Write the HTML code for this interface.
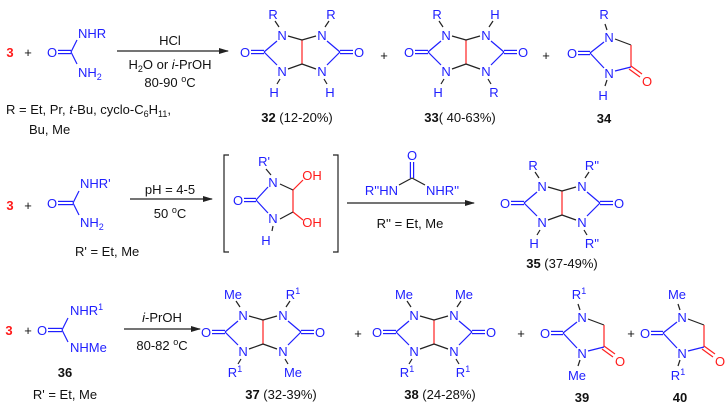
<!DOCTYPE html>
<html><head><meta charset="utf-8"><style>
html,body{margin:0;padding:0;background:#fff;}
svg{display:block;font-family:"Liberation Sans",Arial,sans-serif;font-size:13px;}
.b{fill:#1f1fff}.r{fill:#ff1a1a}.k{fill:#111}
</style></head><body>
<svg width="728" height="405" viewBox="0 0 728 405" xmlns="http://www.w3.org/2000/svg">
<defs>
<g id="gly" fill="none" stroke-width="1.2">
 <line x1="0" y1="-12" x2="0" y2="12" stroke="#ff2020"/>
 <g stroke="#222"><line x1="0" y1="-12" x2="-14" y2="-16"/><line x1="0" y1="12" x2="-14" y2="17"/><line x1="0" y1="-12" x2="14" y2="-16"/><line x1="0" y1="12" x2="14" y2="17"/></g>
 <g stroke="#1f1fff">
  <line x1="-25" y1="-11" x2="-38" y2="0"/><line x1="-38" y1="0" x2="-25" y2="13"/>
  <line x1="-38" y1="-1.6" x2="-51" y2="-1.6"/><line x1="-38" y1="1.6" x2="-51" y2="1.6"/>
  <line x1="25" y1="-11" x2="38" y2="0"/><line x1="38" y1="0" x2="25" y2="13"/>
  <line x1="38" y1="-1.6" x2="51" y2="-1.6"/><line x1="38" y1="1.6" x2="51" y2="1.6"/>
 </g>
 <g stroke="#222"><line x1="-23" y1="-25" x2="-27" y2="-31"/><line x1="23" y1="-25" x2="27" y2="-31"/><line x1="-22" y1="27" x2="-25" y2="32"/><line x1="22" y1="27" x2="25" y2="32"/></g>
</g>
<g id="hyd" fill="none" stroke-width="1.2">
 <line x1="6" y1="2" x2="22" y2="8" stroke="#222"/>
 <line x1="22" y1="8" x2="22" y2="30" stroke="#ff2020"/>
 <line x1="22" y1="29" x2="33" y2="37" stroke="#ff2020"/><line x1="20" y1="32" x2="31" y2="40" stroke="#ff2020"/>
 <g stroke="#1f1fff"><line x1="22" y1="30" x2="6" y2="34"/><line x1="-5" y1="31" x2="-19" y2="16"/><line x1="-19" y1="16" x2="-5" y2="5"/>
 <line x1="-19" y1="14.4" x2="-31" y2="14.4"/><line x1="-19" y1="17.6" x2="-31" y2="17.6"/></g>
 <g stroke="#222"><line x1="-2" y1="-7" x2="-4" y2="-13"/><line x1="-2" y1="43" x2="-4" y2="49"/></g>
</g>
<marker id="ar" markerWidth="10" markerHeight="8" refX="9" refY="4" orient="auto" markerUnits="userSpaceOnUse"><path d="M0,1 L10,4 L0,7 Z" fill="#222"/></marker>
</defs>

<!-- Row 1 -->
<text x="10" y="57" class="r" font-weight="bold" text-anchor="middle">3</text>
<text x="28" y="57" class="k" text-anchor="middle">+</text>
<g stroke-width="1.2" fill="none"><line x1="58" y1="50.4" x2="71" y2="50.4" stroke="#1f1fff"/><line x1="58" y1="53.6" x2="71" y2="53.6" stroke="#1f1fff"/><line x1="71" y1="52" x2="77" y2="40" stroke="#1f1fff"/><line x1="71" y1="52" x2="77" y2="64" stroke="#1f1fff"/></g>
<text x="52" y="57" class="b" text-anchor="middle">O</text>
<text x="78" y="38" class="b">NHR</text>
<text x="78" y="77" class="b">NH<tspan font-size="9" dy="3">2</tspan></text>
<line x1="117" y1="51" x2="228" y2="51" stroke="#222" stroke-width="1.2" marker-end="url(#ar)"/>
<text x="170" y="45" class="k" text-anchor="middle">HCl</text>
<text x="170" y="69" class="k" text-anchor="middle">H<tspan font-size="9" dy="3">2</tspan><tspan dy="-3">O or </tspan><tspan font-style="italic">i</tspan>-PrOH</text>
<text x="170" y="87" class="k" text-anchor="middle">80-90 <tspan font-size="9" dy="-5">o</tspan><tspan dy="5">C</tspan></text>
<text x="6" y="114" class="k">R = Et, Pr, <tspan font-style="italic">t</tspan>-Bu, cyclo-C<tspan font-size="9" dy="3">6</tspan><tspan dy="-3">H</tspan><tspan font-size="9" dy="3">11</tspan><tspan dy="-3">,</tspan></text>
<text x="29" y="134" class="k">Bu, Me</text>

<use href="#gly" x="302" y="52"/>
<g class="b" text-anchor="middle" transform="translate(302,52)">
<text x="-20" y="-12">N</text><text x="-20" y="24">N</text><text x="20" y="-12">N</text><text x="20" y="24">N</text>
<text x="-57" y="5">O</text><text x="57" y="5">O</text>
<text x="-29" y="-33">R</text><text x="29" y="-33">R</text><text x="-28" y="45">H</text><text x="28" y="45">H</text>
</g>
<text x="297" y="122" class="k" text-anchor="middle"><tspan font-weight="bold">32</tspan> (12-20%)</text>
<text x="384" y="60" class="k" text-anchor="middle">+</text>

<use href="#gly" x="466" y="52"/>
<g class="b" text-anchor="middle" transform="translate(466,52)">
<text x="-20" y="-12">N</text><text x="-20" y="24">N</text><text x="20" y="-12">N</text><text x="20" y="24">N</text>
<text x="-57" y="5">O</text><text x="57" y="5">O</text>
<text x="-29" y="-33">R</text><text x="29" y="-33">H</text><text x="-28" y="45">H</text><text x="28" y="45">R</text>
</g>
<text x="460" y="122" class="k" text-anchor="middle"><tspan font-weight="bold">33</tspan>( 40-63%)</text>
<text x="546" y="60" class="k" text-anchor="middle">+</text>

<use href="#hyd" x="609" y="37"/>
<g class="b" text-anchor="middle" transform="translate(609,37)">
<text x="0" y="5">N</text><text x="0" y="41">N</text><text x="-37" y="21">O</text><text x="-5" y="-18">R</text><text x="-6" y="63">H</text>
<text x="38" y="49" class="r">O</text>
</g>
<text x="604" y="123" class="k" text-anchor="middle" font-weight="bold">34</text>

<!-- Row 2 -->
<text x="10" y="210" class="r" font-weight="bold" text-anchor="middle">3</text>
<text x="28" y="210" class="k" text-anchor="middle">+</text>
<g stroke-width="1.2" fill="none" stroke="#1f1fff"><line x1="58" y1="201.4" x2="73" y2="201.4"/><line x1="58" y1="204.6" x2="73" y2="204.6"/><line x1="73" y1="203" x2="79" y2="191"/><line x1="73" y1="203" x2="79" y2="215"/></g>
<text x="52" y="208" class="b" text-anchor="middle">O</text>
<text x="80" y="188" class="b">NHR'</text>
<text x="80" y="227" class="b">NH<tspan font-size="9" dy="3">2</tspan></text>
<text x="75" y="256" class="k">R' = Et, Me</text>
<line x1="130" y1="199" x2="212" y2="199" stroke="#222" stroke-width="1.2" marker-end="url(#ar)"/>
<text x="170" y="194" class="k" text-anchor="middle">pH = 4-5</text>
<text x="170" y="218" class="k" text-anchor="middle">50 <tspan font-size="9" dy="-5">o</tspan><tspan dy="5">C</tspan></text>
<g fill="none" stroke="#222" stroke-width="1.2"><path d="M229,155 H224 V252 H229"/><path d="M333,155 H338 V252 H333"/></g>
<g fill="none" stroke-width="1.2">
<line x1="293" y1="190" x2="293" y2="212" stroke="#ff2020"/>
<line x1="280" y1="184" x2="293" y2="190" stroke="#222"/><line x1="280" y1="219" x2="293" y2="212" stroke="#222"/>
<line x1="293" y1="190" x2="303" y2="180" stroke="#ff2020"/><line x1="293" y1="212" x2="303" y2="220" stroke="#ff2020"/>
<g stroke="#1f1fff"><line x1="268" y1="187" x2="256" y2="200"/><line x1="256" y1="200" x2="268" y2="213"/><line x1="256" y1="198.4" x2="244" y2="198.4"/><line x1="256" y1="201.6" x2="244" y2="201.6"/></g>
<line x1="271" y1="175" x2="266" y2="169" stroke="#222"/><line x1="273" y1="226" x2="272" y2="231" stroke="#222"/>
</g>
<g class="b" text-anchor="middle"><text x="273" y="187">N</text><text x="273" y="223">N</text><text x="238" y="205">O</text><text x="264" y="166">R'</text><text x="266" y="245">H</text></g>
<text x="312" y="180" class="r" text-anchor="middle">OH</text>
<text x="312" y="227" class="r" text-anchor="middle">OH</text>

<line x1="347" y1="203" x2="474" y2="203" stroke="#222" stroke-width="1.2" marker-end="url(#ar)"/>
<g fill="none" stroke-width="1.2"><line x1="410.4" y1="162" x2="410.4" y2="178" stroke="#1f1fff"/><line x1="413.6" y1="162" x2="413.6" y2="178" stroke="#1f1fff"/><line x1="412" y1="178" x2="399" y2="185" stroke="#222"/><line x1="412" y1="178" x2="425" y2="185" stroke="#222"/></g>
<text x="412" y="160" class="b" text-anchor="middle">O</text>
<text x="398" y="195" class="b" text-anchor="end">R''HN</text>
<text x="426" y="195" class="b">NHR''</text>
<text x="410" y="228" class="k" text-anchor="middle">R'' = Et, Me</text>

<use href="#gly" x="562" y="203"/>
<g class="b" text-anchor="middle" transform="translate(562,203)">
<text x="-20" y="-12">N</text><text x="-20" y="24">N</text><text x="20" y="-12">N</text><text x="20" y="24">N</text>
<text x="-57" y="5">O</text><text x="57" y="5">O</text>
<text x="-29" y="-33">R</text><text x="30" y="-33">R''</text><text x="-28" y="45">H</text><text x="30" y="45">R''</text>
</g>
<text x="562" y="268" class="k" text-anchor="middle"><tspan font-weight="bold">35</tspan> (37-49%)</text>

<!-- Row 3 -->
<text x="9" y="335" class="r" font-weight="bold" text-anchor="middle">3</text>
<text x="28" y="335" class="k" text-anchor="middle">+</text>
<g stroke-width="1.2" fill="none" stroke="#1f1fff"><line x1="48" y1="328.4" x2="62" y2="328.4"/><line x1="48" y1="331.6" x2="62" y2="331.6"/><line x1="62" y1="330" x2="68" y2="318"/><line x1="62" y1="330" x2="68" y2="342"/></g>
<text x="42" y="335" class="b" text-anchor="middle">O</text>
<text x="70" y="315" class="b">NHR<tspan font-size="9" dy="-5">1</tspan></text>
<text x="70" y="352" class="b">NHMe</text>
<text x="65" y="377" class="k" text-anchor="middle" font-weight="bold">36</text>
<text x="65" y="399" class="k" text-anchor="middle">R' = Et, Me</text>
<line x1="124" y1="329" x2="200" y2="329" stroke="#222" stroke-width="1.2" marker-end="url(#ar)"/>
<text x="162" y="322" class="k" text-anchor="middle"><tspan font-style="italic">i</tspan>-PrOH</text>
<text x="162" y="350" class="k" text-anchor="middle">80-82 <tspan font-size="9" dy="-5">o</tspan><tspan dy="5">C</tspan></text>

<use href="#gly" x="263" y="332"/>
<g class="b" text-anchor="middle" transform="translate(263,332)">
<text x="-20" y="-12">N</text><text x="-20" y="24">N</text><text x="20" y="-12">N</text><text x="20" y="24">N</text>
<text x="-57" y="5">O</text><text x="57" y="5">O</text>
<text x="-30" y="-33">Me</text><text x="30" y="-33">R<tspan font-size="9" dy="-5">1</tspan></text><text x="-28" y="45">R<tspan font-size="9" dy="-5">1</tspan></text><text x="30" y="45">Me</text>
</g>
<text x="281" y="399" class="k" text-anchor="middle"><tspan font-weight="bold">37</tspan> (32-39%)</text>
<text x="358" y="338" class="k" text-anchor="middle">+</text>

<use href="#gly" x="434" y="332"/>
<g class="b" text-anchor="middle" transform="translate(434,332)">
<text x="-20" y="-12">N</text><text x="-20" y="24">N</text><text x="20" y="-12">N</text><text x="20" y="24">N</text>
<text x="-57" y="5">O</text><text x="57" y="5">O</text>
<text x="-30" y="-33">Me</text><text x="30" y="-33">Me</text><text x="-27" y="45">R<tspan font-size="9" dy="-5">1</tspan></text><text x="29" y="45">R<tspan font-size="9" dy="-5">1</tspan></text>
</g>
<text x="440" y="399" class="k" text-anchor="middle"><tspan font-weight="bold">38</tspan> (24-28%)</text>
<text x="521" y="338" class="k" text-anchor="middle">+</text>

<use href="#hyd" x="582" y="317"/>
<g class="b" text-anchor="middle" transform="translate(582,317)">
<text x="0" y="5">N</text><text x="0" y="41">N</text><text x="-37" y="21">O</text><text x="-3" y="-18">R<tspan font-size="9" dy="-5">1</tspan></text><text x="-5" y="63">Me</text>
<text x="38" y="49" class="r">O</text>
</g>
<text x="582" y="402" class="k" text-anchor="middle" font-weight="bold">39</text>
<text x="631" y="338" class="k" text-anchor="middle">+</text>

<use href="#hyd" x="682" y="317"/>
<g class="b" text-anchor="middle" transform="translate(682,317)">
<text x="0" y="5">N</text><text x="0" y="41">N</text><text x="-37" y="21">O</text><text x="-5" y="-18">Me</text><text x="-4" y="63">R<tspan font-size="9" dy="-5">1</tspan></text>
<text x="38" y="49" class="r">O</text>
</g>
<text x="680" y="402" class="k" text-anchor="middle" font-weight="bold">40</text>
</svg>
</body></html>
